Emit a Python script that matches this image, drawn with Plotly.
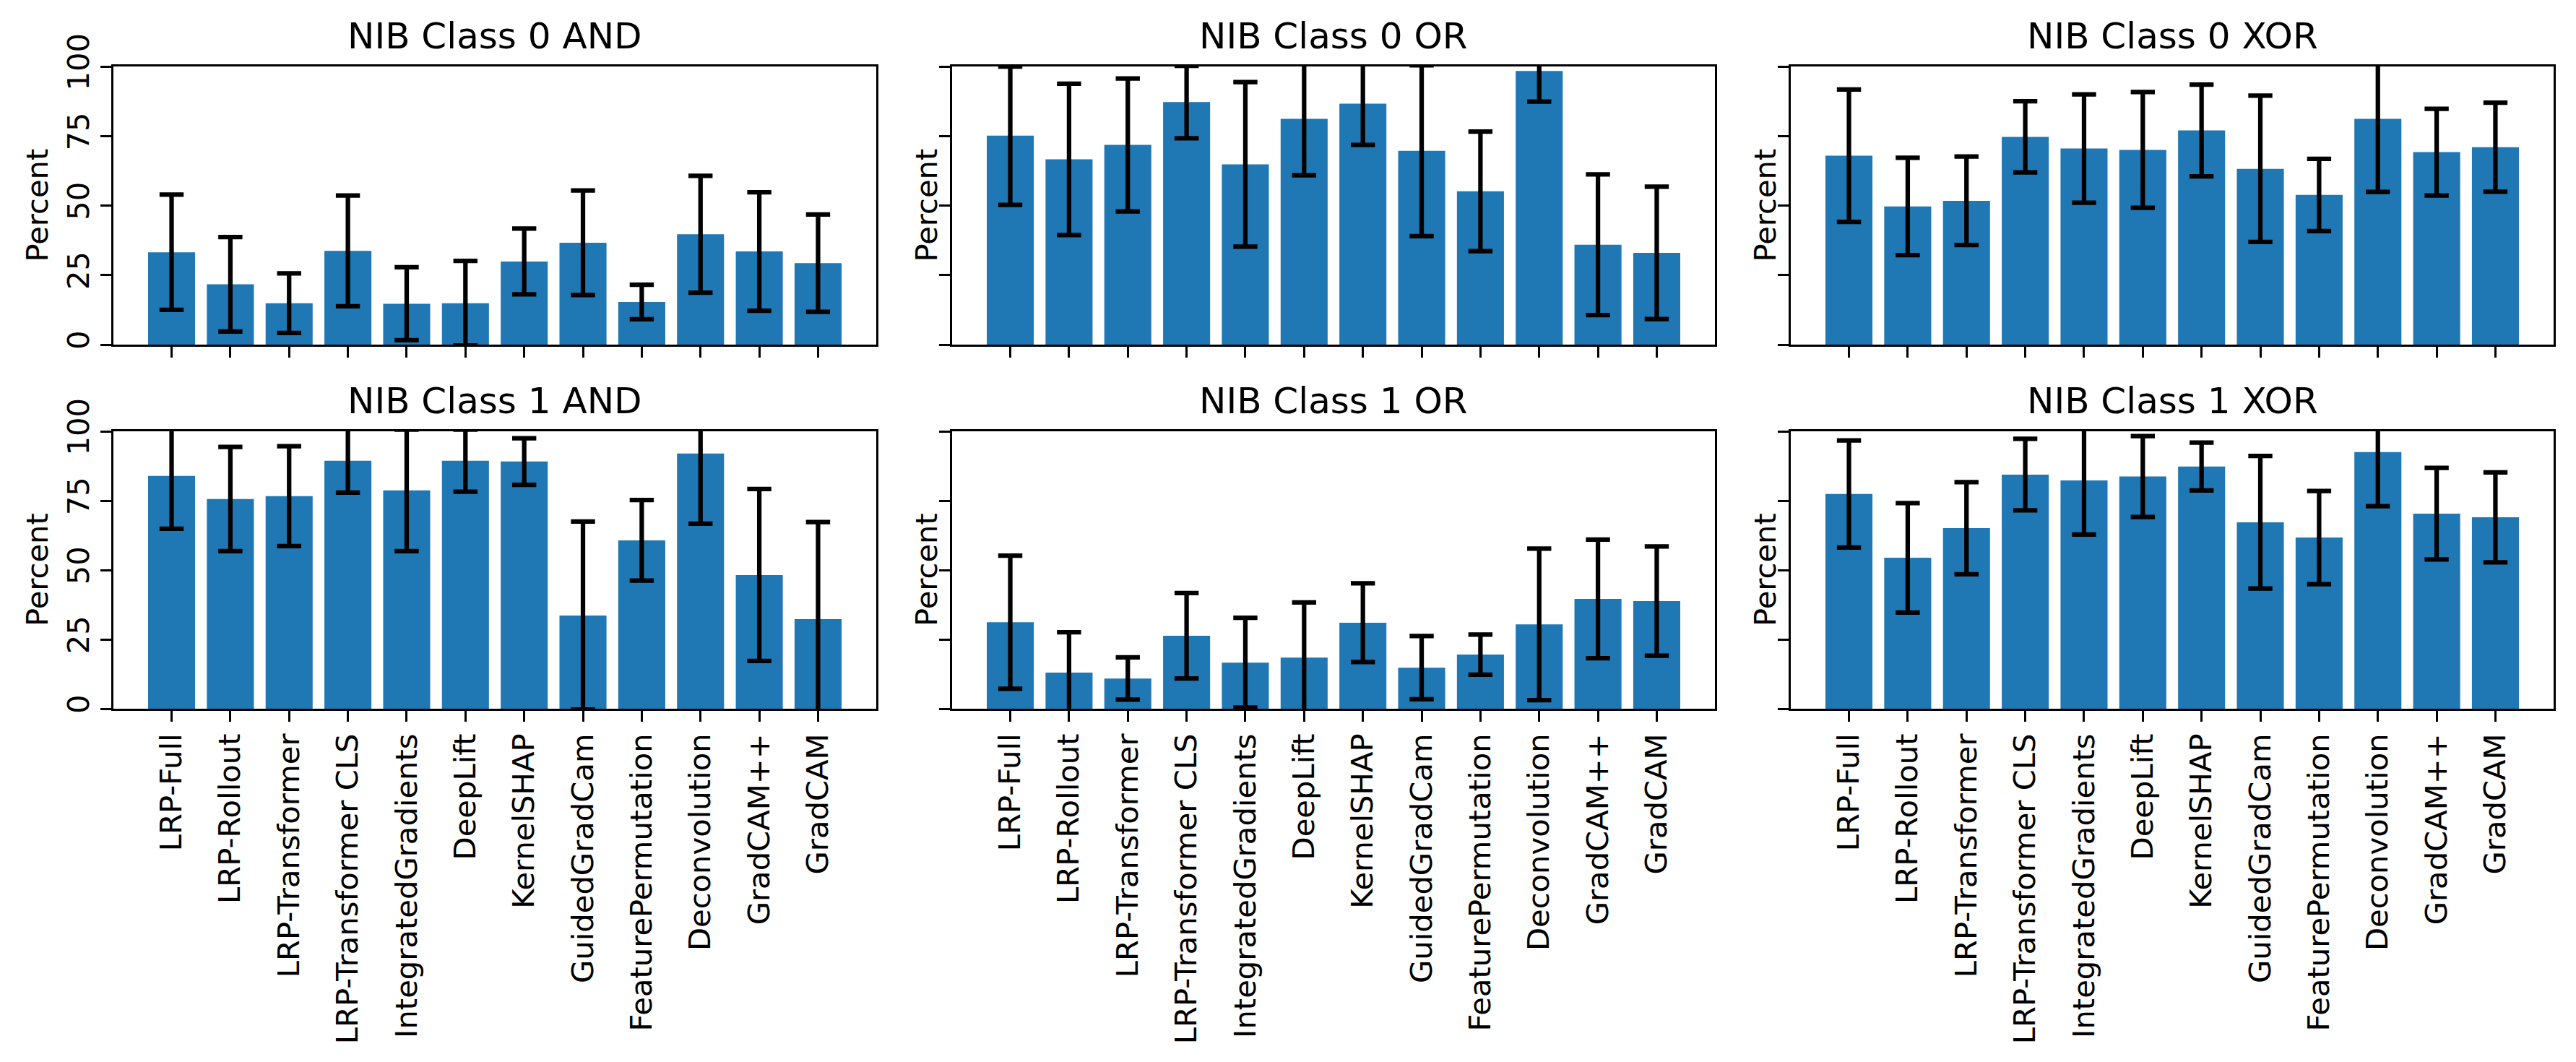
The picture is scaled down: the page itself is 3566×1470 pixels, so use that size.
import plotly.graph_objects as go

methods = ["LRP-Full", "LRP-Rollout", "LRP-Transformer", "LRP-Transformer CLS",
           "IntegratedGradients", "DeepLift", "KernelSHAP", "GuidedGradCam",
           "FeaturePermutation", "Deconvolution", "GradCAM++", "GradCAM"]

titles = ["NIB Class 0 AND", "NIB Class 0 OR", "NIB Class 0 XOR",
          "NIB Class 1 AND", "NIB Class 1 OR", "NIB Class 1 XOR"]

class0_and_mean = [33.2, 21.7, 14.9, 33.7, 14.7, 14.9, 29.9, 36.6, 15.3, 39.7, 33.5, 29.3]
class0_and_err = [20.7, 17.0, 10.7, 19.9, 13.1, 15.2, 11.8, 18.8, 6.2, 21.0, 21.3, 17.5]

class0_or_mean = [75.1, 66.6, 71.8, 87.2, 64.8, 81.2, 86.6, 69.7, 55.1, 98.4, 35.9, 33.0]
class0_or_err = [24.9, 27.2, 23.9, 13.0, 29.6, 20.3, 14.8, 30.7, 21.5, 11.0, 25.3, 23.8]

class0_xor_mean = [67.9, 49.7, 51.7, 74.7, 70.5, 70.0, 77.0, 63.2, 53.8, 81.2, 69.2, 71.0]
class0_xor_err = [23.8, 17.5, 15.9, 12.8, 19.5, 20.8, 16.5, 26.3, 13.0, 26.3, 15.6, 16.0]

class1_and_mean = [83.9, 75.6, 76.6, 89.4, 78.7, 89.4, 89.1, 33.6, 60.7, 92.0, 48.2, 32.3]
class1_and_err = [19.0, 18.8, 18.0, 11.5, 21.9, 11.2, 8.4, 33.9, 14.5, 25.3, 31.0, 35.0]

class1_or_mean = [31.2, 13.0, 10.9, 26.3, 16.6, 18.4, 31.0, 14.8, 19.5, 30.4, 39.6, 38.8]
class1_or_err = [24.0, 14.6, 7.6, 15.4, 16.2, 19.9, 14.2, 11.4, 7.2, 27.3, 21.4, 19.7]

class1_xor_mean = [77.4, 54.4, 65.1, 84.4, 82.3, 83.7, 87.3, 67.2, 61.7, 92.5, 70.3, 69.0]
class1_xor_err = [19.3, 19.7, 16.6, 12.9, 19.5, 14.6, 8.6, 23.9, 16.8, 19.5, 16.5, 16.2]

y_ticks = [0, 25, 50, 75, 100]

panels = [
    (titles[0], class0_and_mean, class0_and_err),
    (titles[1], class0_or_mean, class0_or_err),
    (titles[2], class0_xor_mean, class0_xor_err),
    (titles[3], class1_and_mean, class1_and_err),
    (titles[4], class1_or_mean, class1_or_err),
    (titles[5], class1_xor_mean, class1_xor_err),
]

# page is 3566x1470; the html body has an 8px margin, so the figure is
# 16px smaller and all page positions are shifted by 8px
OFF = 8
W, H = 3566 - 2 * OFF, 1470 - 2 * OFF
col_px = [(157, 1213), (1318, 2374), (2479, 3535)]
row_px = [(92, 477), (597, 981)]
FONT = "DejaVu Sans"
TICK_SIZE = 41.7
TITLE_SIZE = 50
BLUE = "#1f77b4"


def px_x(p):
    return (p - OFF) / W


def px_y(p):
    return 1 - (p - OFF) / H


fig = go.Figure()
layout = {}
annotations = []

for i, (title, mean, err) in enumerate(panels):
    r, c = divmod(i, 3)
    n = i + 1
    xa = "x" if n == 1 else f"x{n}"
    ya = "y" if n == 1 else f"y{n}"
    fig.add_trace(go.Bar(
        x=methods, y=mean, width=0.8,
        marker=dict(color=BLUE, line=dict(width=0)),
        error_y=dict(type="data", array=err, visible=True, color="black",
                     thickness=6.25, width=16.7),
        xaxis=xa, yaxis=ya, showlegend=False, hoverinfo="skip",
    ))
    x0, x1 = col_px[c]
    y0, y1 = row_px[r]
    layout["xaxis" if n == 1 else f"xaxis{n}"] = dict(
        domain=[px_x(x0), px_x(x1)], anchor=ya, type="category",
        categoryorder="array", categoryarray=methods, automargin=False,
        range=[-0.99, 11.99], showline=True, linecolor="black", linewidth=3.3,
        mirror=True, ticks="outside", ticklen=14.6, tickwidth=3.3,
        tickcolor="black", showticklabels=(r == 1), tickangle=-90,
        tickfont=dict(family=FONT, size=TICK_SIZE, color="black"),
        showgrid=False, zeroline=False, layer="above traces",
    )
    layout["yaxis" if n == 1 else f"yaxis{n}"] = dict(
        domain=[px_y(y1), px_y(y0)], anchor=xa, range=[0, 100],
        automargin=False,
        tickmode="array", tickvals=y_ticks, ticktext=[str(v) for v in y_ticks],
        showline=True, linecolor="black", linewidth=3.3, mirror=True,
        ticks="outside", ticklen=14.6, tickwidth=3.3, tickcolor="black",
        showticklabels=(c == 0), tickangle=-90,
        tickfont=dict(family=FONT, size=TICK_SIZE, color="black"),
        showgrid=False, zeroline=False, layer="above traces",
    )
    # subplot title
    annotations.append(dict(
        text=title, xref="paper", yref="paper",
        x=px_x((x0 + x1) / 2), y=px_y(y0 - 42),
        xanchor="center", yanchor="middle", showarrow=False,
        font=dict(family=FONT, size=TITLE_SIZE, color="black"),
    ))
    # y label
    lab_x = 51 if c == 0 else x0 - 36
    annotations.append(dict(
        text="Percent", xref="paper", yref="paper",
        x=px_x(lab_x), y=px_y((y0 + y1) / 2),
        xanchor="center", yanchor="middle", textangle=-90, showarrow=False,
        font=dict(family=FONT, size=TICK_SIZE, color="black"),
    ))

fig.update_layout(
    template="none",
    width=W, height=H, margin=dict(l=0, r=0, t=0, b=0),
    paper_bgcolor="white", plot_bgcolor="white",
    bargap=0.2, annotations=annotations, **layout,
)

fig.write_html("out.html")
